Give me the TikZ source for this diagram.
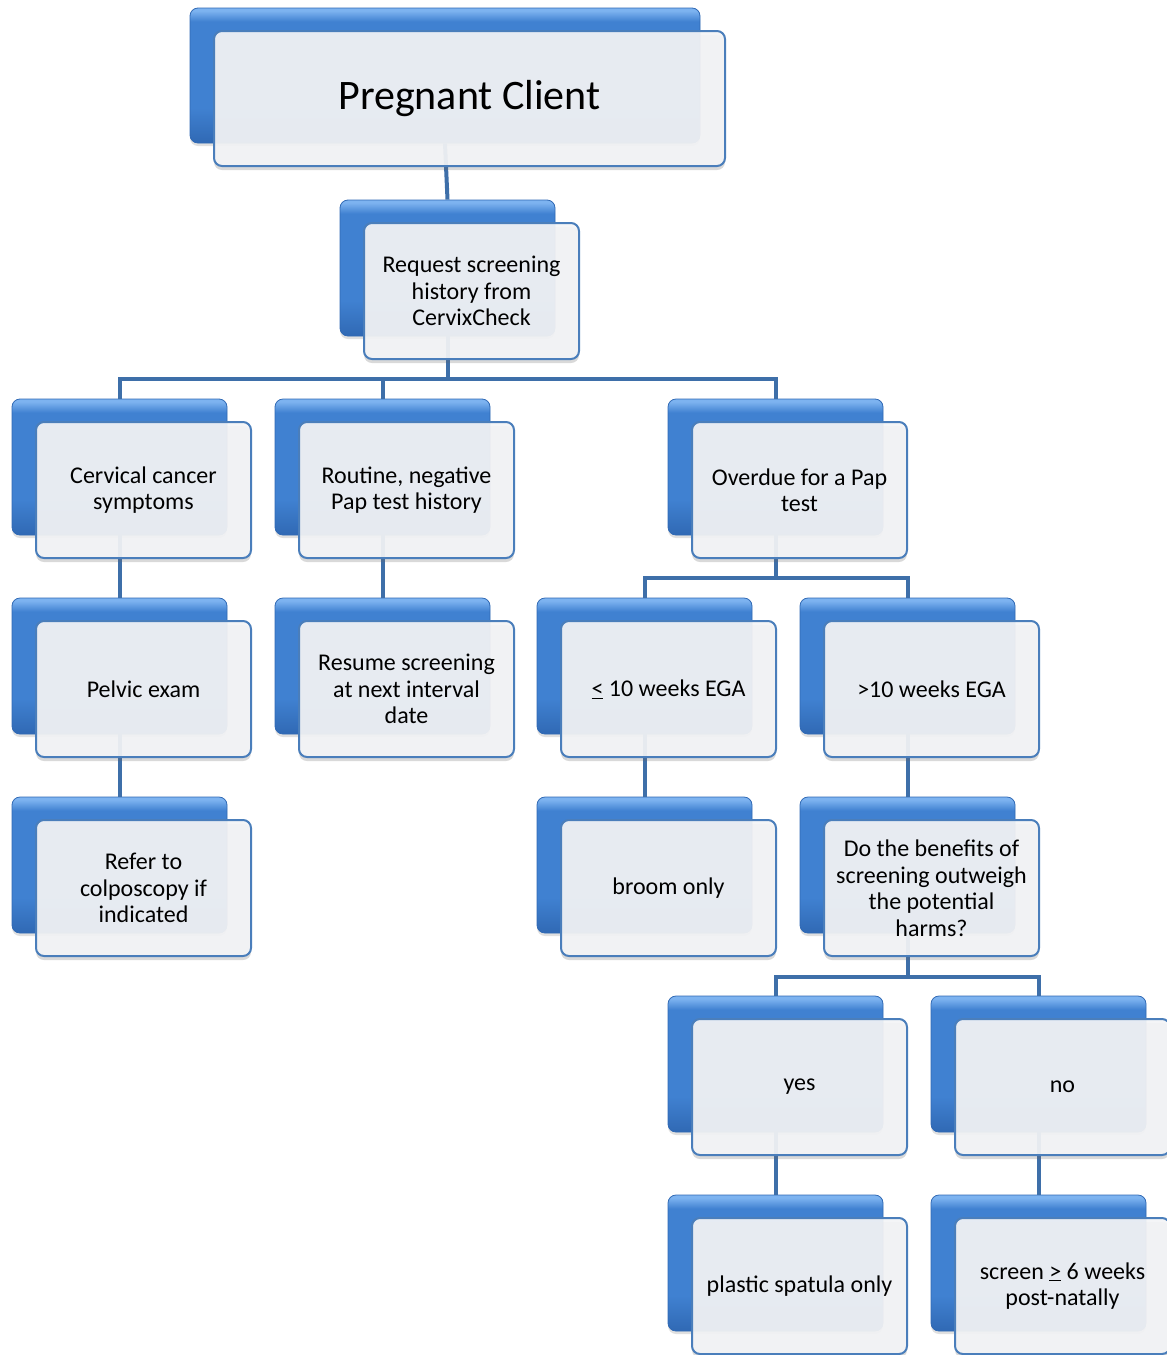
\documentclass[tikz,border=0pt]{standalone}
\usepackage{fontspec}
\setmainfont{Carlito}
\usetikzlibrary{shadows,calc}

\definecolor{linecol}{HTML}{3E6FA9}
\definecolor{backtop}{HTML}{7DB3F0}
\definecolor{backmid}{HTML}{4081D1}
\definecolor{backbot}{HTML}{3069B4}
\definecolor{frontline}{HTML}{4A7EBB}
\definecolor{frontfill}{HTML}{F3F4F6}

\pgfdeclareverticalshading{backshade}{100bp}{color(0bp)=(backbot); color(25bp)=(backbot);
  color(38bp)=(backmid); color(70bp)=(backmid); color(74bp)=(backtop); color(100bp)=(backtop)}

\tikzset{
  backbox/.style={rounded corners=8pt, draw=backbot, line width=0.8pt,
    shading=backshade, drop shadow={shadow xshift=0pt, shadow yshift=-3pt, opacity=0.2, fill=black!60},
    minimum width=215pt, minimum height=136pt, inner sep=0pt},
  frontbox/.style={rounded corners=8pt, draw=frontline, line width=2pt,
    fill=frontfill, fill opacity=0.93, text opacity=1,
    drop shadow={shadow xshift=0pt, shadow yshift=-4pt, opacity=0.25, fill=black!60},
    minimum width=215pt, minimum height=136pt, inner sep=0pt, align=center,
    font=\fontsize{24}{26.5}\selectfont},
  conn/.style={draw=linecol, line width=4pt}
}

\begin{document}
\begin{tikzpicture}[x=1pt,y=-1pt]
\useasboundingbox (0,0) rectangle (1167,1355);

%Shape: back boxes
\node[backbox, minimum width=510pt, minimum height=135pt] (pc) at (445,75.5) {};
\node[backbox] (req) at (447.5,268) {};
\node[backbox] (cerv) at (119.5,467) {};
\node[backbox] (rout) at (382.5,467) {};
\node[backbox] (over) at (775.5,467) {};
\node[backbox] (pelv) at (119.5,666) {};
\node[backbox] (resm) at (382.5,666) {};
\node[backbox] (le10) at (644.5,666) {};
\node[backbox] (gt10) at (907.5,666) {};
\node[backbox] (refr) at (119.5,865) {};
\node[backbox] (brom) at (644.5,865) {};
\node[backbox] (bene) at (907.5,865) {};
\node[backbox] (yes) at (775.5,1064) {};
\node[backbox] (no) at (1038.5,1064) {};
\node[backbox] (plas) at (775.5,1263) {};
\node[backbox] (scrn) at (1038.5,1263) {};

%Straight Lines: connectors
\coordinate (b1) at (447.5,379);
\coordinate (b2) at (775.5,578);
\coordinate (b3) at (907.5,977);
\draw[conn] (pc.south) -- (req.north);
\draw[conn] (req.south) -- (b1);
\draw[conn] (cerv.north) |- (b1) -| (over.north);
\draw[conn] (rout.north) -- (rout.north |- b1);
\draw[conn] (cerv.south) -- (pelv.north);
\draw[conn] (pelv.south) -- (refr.north);
\draw[conn] (rout.south) -- (resm.north);
\draw[conn] (over.south) -- (b2);
\draw[conn] (le10.north) |- (b2) -| (gt10.north);
\draw[conn] (le10.south) -- (brom.north);
\draw[conn] (gt10.south) -- (bene.north);
\draw[conn] (bene.south) -- (b3);
\draw[conn] (yes.north) |- (b3) -| (no.north);
\draw[conn] (yes.south) -- (plas.north);
\draw[conn] (no.south) -- (scrn.north);

% Text Node
\node[frontbox, minimum width=511pt, minimum height=135pt, font=\fontsize{42}{50}\selectfont] (pcf) at ($(pc)+(24.5,23)$) {Pregnant Client};
% Text Node
\node[frontbox] (reqf) at ($(req)+(24,23)$) {Request screening\\history from\\CervixCheck};
\node[frontbox] (cervf) at ($(cerv)+(24,23)$) {Cervical cancer\\symptoms};
\node[frontbox] (routf) at ($(rout)+(24,23)$) {Routine, negative\\Pap test history};
\node[frontbox] (overf) at ($(over)+(24,23)$) {Overdue for a Pap\\test};
% Text Node
\node[frontbox] (pelvf) at ($(pelv)+(24,23)$) {Pelvic exam};
\node[frontbox] (resmf) at ($(resm)+(24,23)$) {Resume screening\\at next interval\\date};
\node[frontbox] (le10f) at ($(le10)+(24,23)$) {\underline{<} 10 weeks EGA};
\node[frontbox] (gt10f) at ($(gt10)+(24,23)$) {>10 weeks EGA};
% Text Node
\node[frontbox] (refrf) at ($(refr)+(24,23)$) {Refer to\\colposcopy if\\indicated};
\node[frontbox] (bromf) at ($(brom)+(24,23)$) {broom only};
\node[frontbox] (benef) at ($(bene)+(24,23)$) {Do the benefits of\\screening outweigh\\the potential\\harms?};
% Text Node
\node[frontbox] (yesf) at ($(yes)+(24,23)$) {yes};
\node[frontbox] (nof) at ($(no)+(24,23)$) {no};
\node[frontbox] (plasf) at ($(plas)+(24,23)$) {plastic spatula only};
\node[frontbox] (scrnf) at ($(scrn)+(24,23)$) {screen \underline{>} 6 weeks\\post-natally};

\end{tikzpicture}
\end{document}
